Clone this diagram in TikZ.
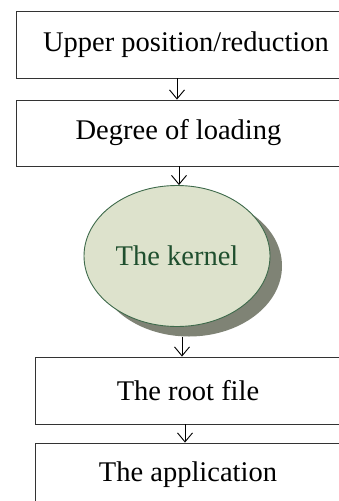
\documentclass[tikz,border=0pt]{standalone}
\usepackage{fontspec}
\setmainfont{Liberation Serif}
\usetikzlibrary{arrows.meta,shapes.geometric,shadows}
\definecolor{kfill}{HTML}{DDE2CC}
\definecolor{kline}{HTML}{3E6A4B}
\definecolor{kshadow}{HTML}{7F8375}
\definecolor{ktext}{HTML}{1F4F2E}
\tikzset{
  boxnode/.style={draw=black!80, line width=0.9pt, rectangle, inner sep=0pt, font=\fontsize{28.5}{34}\selectfont},
  arr/.style={draw=black, line width=0.9pt, -{Straight Barb[length=9pt,width=15pt,line width=0.9pt]}},
  kernnode/.style={ellipse, draw=kline, line width=0.9pt, fill=kfill, text=ktext,
    minimum width=186pt, minimum height=141pt, inner sep=0pt,
    font=\fontsize{28.5}{34}\selectfont,
    drop shadow={shadow xshift=12pt, shadow yshift=-10pt, fill=kshadow, opacity=1}}
}
\begin{document}
\begin{tikzpicture}[x=1pt,y=-1pt]
\useasboundingbox (0,0) rectangle (339,501);
\clip (0,0) rectangle (339,501);
\node[boxnode, minimum width=340pt, minimum height=67pt] (box1) at (186,44.5) {Upper position/reduction};
\node[boxnode, minimum width=325pt, minimum height=66pt] (box2) at (178.5,133) {Degree of loading};
\node[kernnode] (kern) at (177,256) {The kernel};
\node[boxnode, minimum width=306pt, minimum height=67pt] (box3) at (188,390.5) {The root file};
\node[boxnode, minimum width=306pt, minimum height=64pt] (box4) at (188,475) {The application};
\draw[arr] (box1.south -| kern.center) -- (box2.north -| kern.center);
\draw[arr] ([xshift=2pt]box2.south -| kern.center) -- ([xshift=2pt]kern.north);
\draw[arr] ([shift={(5pt,-10pt)}]kern.south) -- (box3.north -| {(182,0)});
\draw[arr] (box3.south -| {(185,0)}) -- (box4.north -| {(185,0)});
\end{tikzpicture}
\end{document}
